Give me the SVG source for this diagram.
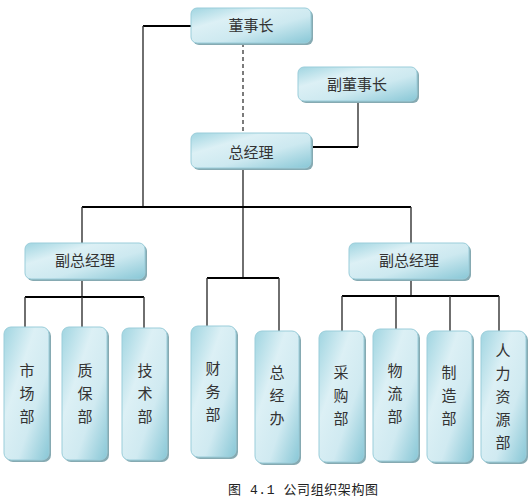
<svg xmlns="http://www.w3.org/2000/svg" width="531" height="500" viewBox="0 0 531 500">
<defs>
<linearGradient id="g" x1="0" y1="0" x2="1" y2="1">
<stop offset="0" stop-color="#a0d5e1"/>
<stop offset="0.3" stop-color="#dcf0f5"/>
<stop offset="0.6" stop-color="#cde9f0"/>
<stop offset="1" stop-color="#88c7d6"/>
</linearGradient>
<linearGradient id="gv" x1="0" y1="0" x2="1" y2="1">
<stop offset="0" stop-color="#a0d5e1"/>
<stop offset="0.35" stop-color="#dcf0f5"/>
<stop offset="0.65" stop-color="#d0eaf1"/>
<stop offset="1" stop-color="#88c7d6"/>
</linearGradient>
</defs>
<style>
.sh{fill:#86aab2}
.bx{fill:url(#g);stroke:#9acdda;stroke-width:1}
.bv{fill:url(#gv);stroke:#9acdda;stroke-width:1}
.t{font-family:"Noto Sans CJK SC","Liberation Serif",serif;font-size:15px;fill:#333;text-anchor:middle}
.cap{font-family:"Liberation Mono","Noto Sans CJK SC",monospace;font-size:13px;fill:#222}
.thick{stroke:#000;stroke-width:2.2;fill:none}
.thin{stroke:#333;stroke-width:1.4;fill:none}
.dash{stroke:#444;stroke-width:1.4;stroke-dasharray:4,3;fill:none}
</style>
<g id="connectors">
<polyline class="thick" points="191,26 143,26"/>
<line class="thin" x1="143" y1="26" x2="143" y2="207"/>
<line class="dash" x1="243" y1="43" x2="243" y2="133"/>
<line class="thin" x1="358" y1="101" x2="358" y2="147"/>
<line class="thick" x1="358" y1="147" x2="312" y2="147"/>
<line class="thin" x1="243" y1="168" x2="243" y2="278"/>
<line class="thick" x1="82" y1="207" x2="411" y2="207"/>
<line class="thin" x1="82" y1="207" x2="82" y2="243"/>
<line class="thin" x1="411" y1="207" x2="411" y2="243"/>
<line class="thick" x1="207" y1="278" x2="279" y2="278"/>
<line class="thin" x1="207" y1="278" x2="207" y2="326"/>
<line class="thin" x1="279" y1="278" x2="279" y2="331"/>
<line class="thin" x1="82" y1="280" x2="82" y2="297"/>
<line class="thick" x1="25" y1="297" x2="144" y2="297"/>
<line class="thin" x1="25" y1="297" x2="25" y2="327"/>
<line class="thin" x1="82" y1="297" x2="82" y2="327"/>
<line class="thin" x1="144" y1="297" x2="144" y2="328"/>
<line class="thin" x1="411" y1="280" x2="411" y2="296"/>
<line class="thick" x1="342" y1="296" x2="499" y2="296"/>
<line class="thin" x1="342" y1="296" x2="342" y2="331"/>
<line class="thin" x1="396" y1="296" x2="396" y2="329"/>
<line class="thin" x1="450" y1="296" x2="450" y2="331"/>
<line class="thin" x1="499" y1="296" x2="499" y2="331"/>
</g>
<g id="n-dongshizhang">
<rect class="sh" x="193" y="10" width="120" height="35" rx="6"/>
<rect class="bx" x="191" y="8" width="120" height="35" rx="6"/>
<text class="t" x="251" y="31">董事长</text>
</g>
<g id="n-fudongshizhang">
<rect class="sh" x="300" y="69" width="119" height="34" rx="6"/>
<rect class="bx" x="298" y="67" width="119" height="34" rx="6"/>
<text class="t" x="357" y="90">副董事长</text>
</g>
<g id="n-zongjingli">
<rect class="sh" x="193" y="135" width="120" height="35" rx="6"/>
<rect class="bx" x="191" y="133" width="120" height="35" rx="6"/>
<text class="t" x="251" y="158">总经理</text>
</g>
<g id="n-fuzong1">
<rect class="sh" x="27" y="245" width="120" height="36" rx="6"/>
<rect class="bx" x="25" y="243" width="120" height="36" rx="6"/>
<text class="t" x="85" y="266">副总经理</text>
</g>
<g id="n-fuzong2">
<rect class="sh" x="351" y="245" width="120" height="36" rx="6"/>
<rect class="bx" x="349" y="243" width="120" height="36" rx="6"/>
<text class="t" x="409" y="266">副总经理</text>
</g>
<g id="n-shichang">
<rect class="sh" x="6" y="329" width="45" height="133" rx="7"/>
<rect class="bv" x="4" y="327" width="45" height="133" rx="7"/>
<text class="t" x="27" y="376">市</text><text class="t" x="27" y="399">场</text><text class="t" x="27" y="422">部</text>
</g>
<g id="n-zhibao">
<rect class="sh" x="64" y="329" width="45" height="133" rx="7"/>
<rect class="bv" x="62" y="327" width="45" height="133" rx="7"/>
<text class="t" x="85" y="376">质</text><text class="t" x="85" y="399">保</text><text class="t" x="85" y="422">部</text>
</g>
<g id="n-jishu">
<rect class="sh" x="124" y="330" width="45" height="132" rx="7"/>
<rect class="bv" x="122" y="328" width="45" height="132" rx="7"/>
<text class="t" x="145" y="376">技</text><text class="t" x="145" y="399">术</text><text class="t" x="145" y="422">部</text>
</g>
<g id="n-caiwu">
<rect class="sh" x="193" y="328" width="45" height="131" rx="7"/>
<rect class="bv" x="191" y="326" width="45" height="131" rx="7"/>
<text class="t" x="213" y="374">财</text><text class="t" x="213" y="397">务</text><text class="t" x="213" y="420">部</text>
</g>
<g id="n-zongjingban">
<rect class="sh" x="257" y="333" width="44" height="132" rx="7"/>
<rect class="bv" x="255" y="331" width="44" height="132" rx="7"/>
<text class="t" x="277" y="378">总</text><text class="t" x="277" y="401">经</text><text class="t" x="277" y="424">办</text>
</g>
<g id="n-caigou">
<rect class="sh" x="321" y="333" width="45" height="131" rx="7"/>
<rect class="bv" x="319" y="331" width="45" height="131" rx="7"/>
<text class="t" x="341" y="378">采</text><text class="t" x="341" y="401">购</text><text class="t" x="341" y="424">部</text>
</g>
<g id="n-wuliu">
<rect class="sh" x="375" y="331" width="45" height="132" rx="7"/>
<rect class="bv" x="373" y="329" width="45" height="132" rx="7"/>
<text class="t" x="395" y="376">物</text><text class="t" x="395" y="399">流</text><text class="t" x="395" y="422">部</text>
</g>
<g id="n-zhizao">
<rect class="sh" x="429" y="333" width="45" height="131" rx="7"/>
<rect class="bv" x="427" y="331" width="45" height="131" rx="7"/>
<text class="t" x="449" y="378">制</text><text class="t" x="449" y="401">造</text><text class="t" x="449" y="424">部</text>
</g>
<g id="n-renli">
<rect class="sh" x="483" y="333" width="45" height="131" rx="7"/>
<rect class="bv" x="481" y="331" width="45" height="131" rx="7"/>
<text class="t" x="503" y="356">人</text><text class="t" x="503" y="379">力</text><text class="t" x="503" y="402">资</text><text class="t" x="503" y="425">源</text><text class="t" x="503" y="448">部</text>
</g>
<text class="cap" x="228" y="494" textLength="150" lengthAdjust="spacing">图 4.1 公司组织架构图</text>
</svg>
